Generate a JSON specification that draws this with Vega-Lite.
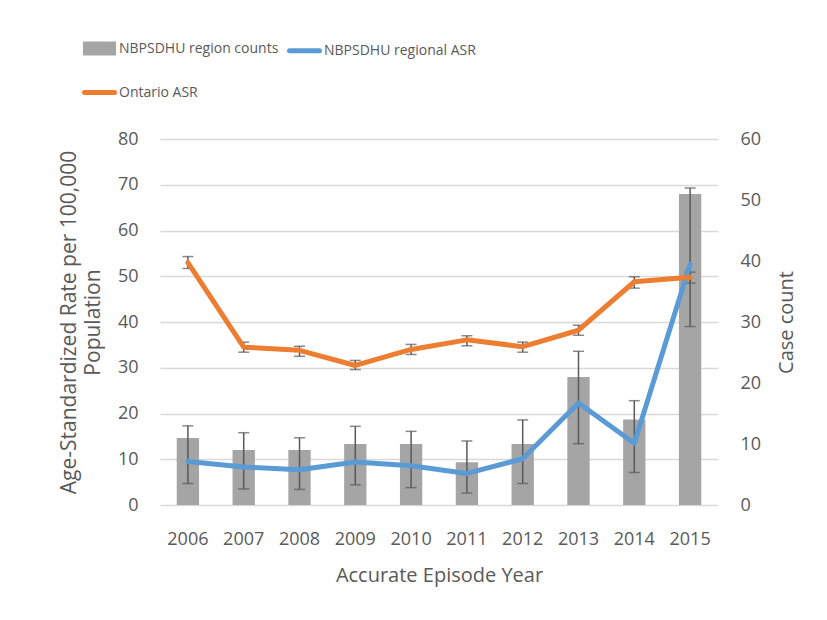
{
  "$schema": "https://vega.github.io/schema/vega-lite/v6.json",
  "width": 558,
  "height": 366,
  "autosize": {"type": "none"},
  "padding": {"left": 160, "top": 139, "right": 109, "bottom": 115},
  "background": "white",
  "config": {
    "font": "Open Sans",
    "view": {"stroke": null},
    "axis": {
      "labelFont": "Open Sans",
      "titleFont": "Open Sans",
      "labelColor": "#595959",
      "titleColor": "#595959",
      "titleFontWeight": "normal",
      "ticks": false,
      "domain": false,
      "labelFontSize": 18,
      "titleFontSize": 20,
      "gridColor": "#d9d9d9",
      "gridWidth": 1.3
    }
  },
  "datasets": {
    "counts": [
      {"year": "2006", "count": 11, "series": "NBPSDHU region counts"},
      {"year": "2007", "count": 9, "series": "NBPSDHU region counts"},
      {"year": "2008", "count": 9, "series": "NBPSDHU region counts"},
      {"year": "2009", "count": 10, "series": "NBPSDHU region counts"},
      {"year": "2010", "count": 10, "series": "NBPSDHU region counts"},
      {"year": "2011", "count": 7, "series": "NBPSDHU region counts"},
      {"year": "2012", "count": 10, "series": "NBPSDHU region counts"},
      {"year": "2013", "count": 21, "series": "NBPSDHU region counts"},
      {"year": "2014", "count": 14, "series": "NBPSDHU region counts"},
      {"year": "2015", "count": 51, "series": "NBPSDHU region counts"}
    ],
    "asr": [
      {"year": "2006", "series": "NBPSDHU regional ASR", "asr": 9.5, "lo": 4.7, "hi": 17.3},
      {"year": "2007", "series": "NBPSDHU regional ASR", "asr": 8.3, "lo": 3.5, "hi": 15.8},
      {"year": "2008", "series": "NBPSDHU regional ASR", "asr": 7.7, "lo": 3.4, "hi": 14.7},
      {"year": "2009", "series": "NBPSDHU regional ASR", "asr": 9.4, "lo": 4.4, "hi": 17.2},
      {"year": "2010", "series": "NBPSDHU regional ASR", "asr": 8.6, "lo": 3.8, "hi": 16.1},
      {"year": "2011", "series": "NBPSDHU regional ASR", "asr": 6.9, "lo": 2.6, "hi": 14.0},
      {"year": "2012", "series": "NBPSDHU regional ASR", "asr": 10.1, "lo": 4.7, "hi": 18.6},
      {"year": "2013", "series": "NBPSDHU regional ASR", "asr": 22.3, "lo": 13.4, "hi": 33.6},
      {"year": "2014", "series": "NBPSDHU regional ASR", "asr": 13.5, "lo": 7.1, "hi": 22.8},
      {"year": "2015", "series": "NBPSDHU regional ASR", "asr": 52.6, "lo": 39.0, "hi": 69.3},
      {"year": "2006", "series": "Ontario ASR", "asr": 53.0, "lo": 51.7, "hi": 54.3},
      {"year": "2007", "series": "Ontario ASR", "asr": 34.5, "lo": 33.4, "hi": 35.6},
      {"year": "2008", "series": "Ontario ASR", "asr": 33.8, "lo": 32.5, "hi": 34.7},
      {"year": "2009", "series": "Ontario ASR", "asr": 30.5, "lo": 29.6, "hi": 31.6},
      {"year": "2010", "series": "Ontario ASR", "asr": 34.0, "lo": 32.9, "hi": 35.1},
      {"year": "2011", "series": "Ontario ASR", "asr": 36.1, "lo": 34.8, "hi": 37.0},
      {"year": "2012", "series": "Ontario ASR", "asr": 34.6, "lo": 33.4, "hi": 35.6},
      {"year": "2013", "series": "Ontario ASR", "asr": 38.2, "lo": 37.1, "hi": 39.3},
      {"year": "2014", "series": "Ontario ASR", "asr": 48.8, "lo": 47.4, "hi": 49.9},
      {"year": "2015", "series": "Ontario ASR", "asr": 49.8, "lo": 48.5, "hi": 50.9}
    ]
  },
  "encoding": {
    "x": {
      "field": "year",
      "type": "ordinal",
      "scale": {"paddingInner": 0.6, "paddingOuter": 0.3},
      "axis": {"title": "Accurate Episode Year", "labelAngle": 0, "labelPadding": 25, "titlePadding": 17}
    }
  },
  "layer": [
    {
      "data": {"name": "counts"},
      "mark": {"type": "bar"},
      "encoding": {
        "y": {
          "field": "count",
          "type": "quantitative",
          "scale": {"domain": [0, 60]},
          "axis": {"orient": "right", "title": "Case count", "titleAngle": -90, "titleBaseline": "top", "grid": false, "tickCount": 6, "labelPadding": 22, "titlePadding": 16}
        },
        "color": {
          "field": "series",
          "type": "nominal",
          "scale": {
            "domain": ["NBPSDHU region counts", "NBPSDHU regional ASR", "Ontario ASR"],
            "range": ["#a5a5a5", "#5b9bd5", "#ed7d31"]
          },
          "legend": {
            "orient": "none",
            "legendX": -78,
            "legendY": -108,
            "direction": "horizontal",
            "columns": 2,
            "title": null,
            "symbolSize": 900,
            "symbolType": "stroke",
            "symbolStrokeWidth": 5,
            "labelFontSize": 14,
            "labelLimit": 300,
            "labelFont": "Open Sans",
            "labelColor": "#595959",
            "labelOffset": 2,
            "columnPadding": 0,
            "rowPadding": 12,
            "padding": 0,
            "encode": {
              "symbols": {
                "update": {
                  "shape": {"signal": "datum.value === 'NBPSDHU region counts' ? 'M-0.933,-0.3H0.933V0.3H-0.933Z' : 'stroke'"},
                  "fill": {"signal": "datum.value === 'NBPSDHU region counts' ? '#a5a5a5' : 'transparent'"},
                  "stroke": {"signal": "datum.value === 'NBPSDHU region counts' ? '#a5a5a5' : (datum.value === 'Ontario ASR' ? '#ed7d31' : '#5b9bd5')"},
                  "strokeWidth": {"value": 5},
                  "size": {"value": 900},
                  "strokeCap": {"signal": "datum.value === 'NBPSDHU region counts' ? 'butt' : 'round'"},
                  "opacity": {"value": 1}
                }
              }
            }
          }
        }
      }
    },
    {
      "data": {"name": "asr"},
      "layer": [
        {
          "mark": {"type": "rule", "color": "#595959", "strokeWidth": 1.5},
          "encoding": {
            "y": {
              "field": "lo",
              "type": "quantitative",
              "scale": {"domain": [0, 80]},
              "axis": {
                "orient": "left",
                "grid": true,
                "title": ["Age-Standardized Rate per 100,000", "Population"],
                "titleFontSize": 21,
                "titleLineHeight": 24,
                "tickCount": 8,
                "labelPadding": 22,
                "titlePadding": 14
              }
            },
            "y2": {"field": "hi"}
          }
        },
        {
          "mark": {"type": "tick", "color": "#595959", "thickness": 1.5, "size": 11},
          "encoding": {"y": {"field": "lo", "type": "quantitative"}}
        },
        {
          "mark": {"type": "tick", "color": "#595959", "thickness": 1.5, "size": 11},
          "encoding": {"y": {"field": "hi", "type": "quantitative"}}
        },
        {
          "mark": {"type": "line", "strokeWidth": 5, "strokeCap": "round", "strokeJoin": "round"},
          "encoding": {
            "y": {"field": "asr", "type": "quantitative"},
            "color": {"field": "series", "type": "nominal"}
          }
        }
      ]
    }
  ],
  "resolve": {"scale": {"y": "independent"}}
}
